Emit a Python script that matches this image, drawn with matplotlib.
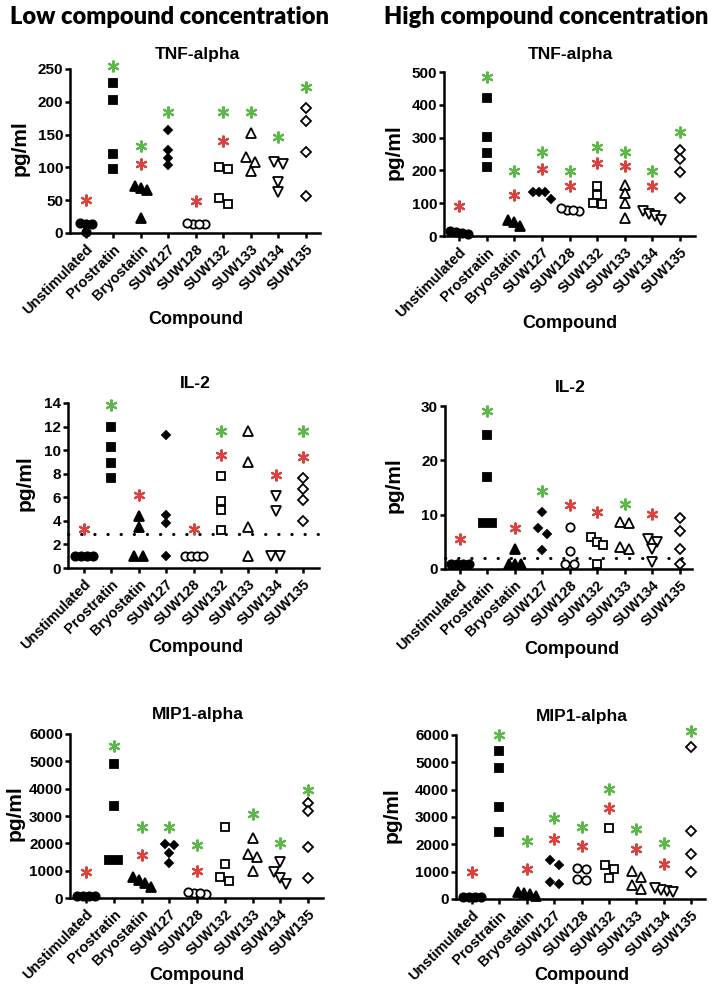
import matplotlib
matplotlib.use('Agg')
import matplotlib.pyplot as plt
import numpy as np

plt.rcParams['font.family'] = ['Liberation Sans', 'DejaVu Sans']
plt.rcParams['font.weight'] = 'bold'

W, H = 714, 986

compounds = ['Unstimulated', 'Prostratin', 'Bryostatin', 'SUW127', 'SUW128',
             'SUW132', 'SUW133', 'SUW134', 'SUW135']

# ---------------- data (pg/ml) ----------------
tnf_low = [[13, 15, 14, 1], [228, 203, 120, 97], [69, 66, 71, 23], [157, 126, 114, 103],
           [14, 13, 14, 16], [101, 98, 54, 44], [153, 116, 108, 94], [108, 105, 78, 63],
           [190, 170, 124, 56]]
tnf_low_green = [None, 254, 133, 184, None, 184, 184, 147, 222]
tnf_low_red = [50, None, 105, None, 49, 141, None, None, None]

tnf_high = [[12, 8, 15, 6], [422, 303, 252, 209], [44, 31, 50], [135, 135, 134, 114],
            [80, 75, 84, 78], [151, 124, 98, 102], [155, 132, 100, 56], [77, 66, 60, 50],
            [261, 234, 195, 116]]
tnf_high_green = [None, 485, 199, 256, 199, 271, 256, 197, 317]
tnf_high_red = [90, None, 124, 203, 151, 224, 212, 151, None]

il2_low = [[1, 1, 1, 1], [12, 10.25, 8.9, 7.6], [4.4, 3.5, 1, 1], [11.25, 4.5, 3.85, 1],
           [1, 1, 1, 1], [7.8, 5.7, 4.9, 3.2], [11.6, 9.0, 3.5, 1], [6.1, 4.8, 1, 1],
           [7.6, 6.7, 5.8, 4.0]]
il2_low_green = [None, 13.8, None, None, None, 11.6, None, None, 11.6]
il2_low_red = [3.3, None, 6.2, None, 3.3, 9.6, None, 7.9, 9.4]
il2_low_cutoff = 2.9

il2_high = [[1, 1, 1, 1], [24.6, 17, 8.4, 8.5], [3.7, 1, 1, 1], [10.5, 7.6, 6.4, 3.5],
            [7.8, 3.3, 1, 1], [5.8, 5.0, 4.5, 1], [8.6, 8.4, 4.1, 3.6], [5.6, 5.0, 3.7, 1.2],
            [9.3, 7.0, 3.6, 1]]
il2_high_green = [None, 29.1, None, 14.3, None, None, 11.9, None, None]
il2_high_red = [5.5, None, 7.6, None, 11.7, 10.5, None, 10.1, None]
il2_high_cutoff = 2.1

mip_low = [[90, 70, 60, 80], [4900, 3370, 1400, 1400], [650, 420, 560, 760],
           [1950, 1980, 1640, 1280], [200, 160, 190, 210], [2610, 1250, 760, 610],
           [2200, 1600, 1500, 1000], [1330, 950, 720, 520], [3480, 3190, 1860, 750]]
mip_low_green = [None, 5560, 2580, 2580, 1935, None, 3070, 1995, 3950]
mip_low_red = [950, None, 1570, None, 985, None, None, None, None]

mip_high = [[90, 70, 60, 80], [5400, 4780, 3380, 2460], [230, 120, 260, 190],
            [1440, 1240, 540, 630], [1140, 1080, 700, 720], [2600, 1240, 1100, 770],
            [1040, 820, 380, 500], [300, 260, 340, 400], [5560, 2500, 1650, 1000]]
mip_high_green = [None, 6000, 2140, 2980, 2620, 4020, 2560, 2060, 6150]
mip_high_red = [1000, None, 1115, 2195, 1950, 3330, 1830, 1280, None]

# ---------------- styles ----------------
marker_styles = [
    dict(marker='o', ms=6.0, mfc='black', mec='black'),
    dict(marker='s', ms=5.5, mfc='black', mec='black'),
    dict(marker='^', ms=6.5, mfc='black', mec='black'),
    dict(marker='D', ms=4.5, mfc='black', mec='black'),
    dict(marker='o', ms=6.0, mfc='white', mec='black'),
    dict(marker='s', ms=6.0, mfc='white', mec='black'),
    dict(marker='^', ms=6.5, mfc='white', mec='black'),
    dict(marker='v', ms=6.5, mfc='white', mec='black'),
    dict(marker='D', ms=5.0, mfc='white', mec='black'),
]
GREEN = '#5cb849'
RED = '#d9423f'


def px_rect(x0, x1, top, bot):
    return [x0 / W, 1 - bot / H, (x1 - x0) / W, (bot - top) / H]


def swarm_offsets(vals, ax, thresh_px=7.0):
    vals = np.asarray(vals, dtype=float)
    t = ax.transData
    ppu = t.transform((0, 1))[1] - t.transform((0, 0))[1]
    ppc = t.transform((1, 0))[0] - t.transform((0, 0))[0]
    order = np.argsort(-vals, kind='stable')
    clusters = []
    for idx in order:
        if clusters and abs(vals[clusters[-1][-1]] - vals[idx]) * ppu < thresh_px:
            clusters[-1].append(idx)
        else:
            clusters.append([idx])
    offs = np.zeros(len(vals))
    for cl in clusters:
        n = len(cl)
        d_px = 9.0 if n == 2 else 6.0
        for i, idx in enumerate(cl):
            offs[idx] = (i - (n - 1) / 2) * d_px / ppc
    return offs


panels = [
    dict(rect=px_rect(70, 320, 69, 233), xlim=(-0.58, 8.51), ylim=250, ystep=50,
         data=tnf_low, green=tnf_low_green, red=tnf_low_red, cutoff=None,
         title='TNF-alpha', tpos=(197, 54), ylpos=(20, 148), xlpos=(196, 320)),
    dict(rect=px_rect(444, 695, 72, 236), xlim=(-0.54, 8.54), ylim=500, ystep=100,
         data=tnf_high, green=tnf_high_green, red=tnf_high_red, cutoff=None,
         title='TNF-alpha', tpos=(570, 55), ylpos=(394, 152), xlpos=(570, 323)),
    dict(rect=px_rect(68, 319, 403, 568), xlim=(-0.58, 8.58), ylim=14, ystep=2,
         data=il2_low, green=il2_low_green, red=il2_low_red, cutoff=il2_low_cutoff,
         title='IL-2', tpos=(195, 383), ylpos=(25, 483), xlpos=(196, 648)),
    dict(rect=px_rect(445, 692, 406, 569), xlim=(-0.53, 8.45), ylim=30, ystep=10,
         data=il2_high, green=il2_high_green, red=il2_high_red, cutoff=il2_high_cutoff,
         title='IL-2', tpos=(570, 387), ylpos=(394, 485), xlpos=(572, 650)),
    dict(rect=px_rect(70, 323, 734, 898), xlim=(-0.58, 8.54), ylim=6000, ystep=1000,
         data=mip_low, green=mip_low_green, red=mip_low_red, cutoff=None,
         title='MIP1-alpha', tpos=(198, 715), ylpos=(15, 813), xlpos=(197, 975)),
    dict(rect=px_rect(456, 705, 735, 899), xlim=(-0.58, 8.5), ylim=6000, ystep=1000,
         data=mip_high, green=mip_high_green, red=mip_high_red, cutoff=None,
         title='MIP1-alpha', tpos=(582, 717), ylpos=(392, 815), xlpos=(582, 975)),
]

fig = plt.figure(figsize=(W / 100, H / 100), dpi=100)


def ftext(x, y, s, **kw):
    fig.text(x / W, 1 - y / H, s, ha='center', va='center', **kw)


ftext(170, 17, 'Low compound concentration', fontsize=17, family=['Lato', 'DejaVu Sans'],
      fontweight='heavy')
fig.text(384 / W, 1 - 17 / H, 'High compound concentration', ha='left', va='center',
         fontsize=17, family=['Lato', 'DejaVu Sans'], fontweight='heavy')

for p in panels:
    ax = fig.add_axes(p['rect'])
    ax.set_xlim(*p['xlim'])
    ax.set_ylim(0, p['ylim'])
    for s in ['top', 'right']:
        ax.spines[s].set_visible(False)
    for s in ['left', 'bottom']:
        ax.spines[s].set_linewidth(1.8)
    ax.tick_params(axis='both', direction='out', width=1.8, length=3.5)
    ax.tick_params(axis='y', labelsize=11, pad=1.5)
    ax.tick_params(axis='x', labelsize=10.5, pad=3)
    ax.set_yticks(np.arange(0, p['ylim'] + 1e-9, p['ystep']))
    ax.set_xticks(range(len(compounds)))
    ax.set_xticklabels(compounds, rotation=45, ha='right', va='top',
                       rotation_mode='anchor', fontweight='bold')
    for lab in ax.get_yticklabels():
        lab.set_fontweight('bold')

    if p['cutoff'] is not None:
        ax.axhline(p['cutoff'], color='black', lw=2.2, linestyle=(0, (0.1, 4.2)),
                   dash_capstyle='round', clip_on=False)

    for i, vals in enumerate(p['data']):
        offs = swarm_offsets(vals, ax)
        ax.plot(i + offs, vals, linestyle='none', mew=1.3, clip_on=False, zorder=3,
                **marker_styles[i])
        if p['green'][i] is not None:
            ax.plot(i, p['green'][i], linestyle='none', marker=(6, 2, 0), ms=8.5,
                    mew=1.5, color=GREEN, clip_on=False, zorder=4)
        if p['red'][i] is not None:
            ax.plot(i, p['red'][i], linestyle='none', marker=(6, 2, 0), ms=8.5,
                    mew=1.5, color=RED, clip_on=False, zorder=4)

    ftext(*p['tpos'], p['title'], fontsize=12.5, fontweight='bold')
    ftext(*p['ylpos'], 'pg/ml', fontsize=15, fontweight='bold', rotation=90)
    ftext(*p['xlpos'], 'Compound', fontsize=13, fontweight='bold')

fig.savefig('out.png', dpi=100)
